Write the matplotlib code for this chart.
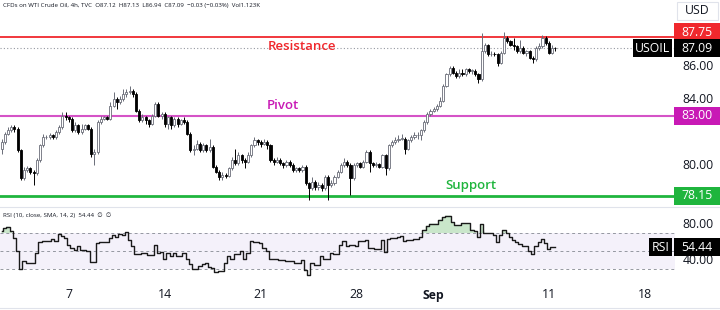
import matplotlib.pyplot as plt
import matplotlib.transforms as mtransforms
from matplotlib.patches import Rectangle

# 4h candles of WTI crude (open = previous close)
first_open = 81.0
closes = [
    81.4, 81.9, 82.1, 82.3, 82.2, 80.9, 79.2, 79.7, 79.8, 79.6,
    79.5, 80.3, 81.2, 81.7, 81.7, 81.8, 81.7, 82.0, 82.3, 83.0,
    82.9, 82.8, 82.1, 82.4, 82.0, 82.2, 82.4, 82.2, 80.7, 80.8,
    82.6, 82.8, 82.9, 82.8, 83.6, 84.0, 83.8, 84.0, 84.3, 84.4,
    84.5, 84.3, 83.3, 82.7, 82.9, 82.7, 82.5, 83.0, 83.7, 83.0,
    83.1, 82.5, 82.9, 82.4, 82.8, 82.5, 82.7, 82.6, 81.9, 80.9,
    81.0, 81.3, 80.9, 81.2, 80.9, 81.1, 79.9, 79.6, 79.3, 79.4,
    79.35, 79.8, 80.3, 80.1, 80.6, 80.3, 80.2, 80.6, 81.2, 81.5,
    81.4, 81.3, 81.4, 81.2, 80.3, 80.2, 80.3, 80.1, 80.0, 80.2,
    80.0, 79.7, 79.8, 79.7, 79.9, 78.9, 78.6, 79.0, 78.7, 78.8,
    78.6, 79.3, 78.8, 78.9, 79.3, 79.6, 80.0, 80.2, 80.0, 79.2,
    80.0, 80.1, 79.9, 80.2, 80.8, 80.1, 80.0, 80.05, 79.9, 80.6,
    79.8, 81.2, 81.4, 81.5, 81.6, 81.6, 81.0, 81.5, 81.7, 81.8,
    81.8, 82.1, 82.6, 83.1, 83.3, 83.4, 83.6, 83.9, 84.8, 85.5,
    85.9, 85.6, 85.4, 85.6, 85.5, 85.8, 85.7, 85.7, 85.5, 85.2,
    86.9, 87.3, 86.7, 86.75, 86.7, 86.2, 86.8, 87.7, 87.5, 87.3,
    87.2, 86.9, 87.1, 86.8, 86.9, 86.5, 86.4, 87.1, 87.2, 87.7,
    87.4, 86.8, 87.12, 87.09,
]
highs = [
    81.6, 82.0, 82.3, 82.45, 82.4, 82.3, 81.0, 79.9, 79.95, 79.9,
    79.7, 80.4, 81.3, 81.9, 81.85, 81.95, 81.9, 82.15, 82.4, 83.2,
    83.2, 83.0, 82.9, 82.6, 82.5, 82.5, 82.5, 82.5, 82.3, 81.0,
    82.7, 82.95, 83.0, 83.0, 83.8, 84.4, 84.1, 84.2, 84.6, 84.6,
    84.8, 84.6, 84.4, 83.4, 83.1, 83.0, 82.8, 83.1, 83.85, 83.8,
    83.2, 83.2, 83.0, 83.0, 82.9, 82.9, 82.8, 82.9, 82.7, 82.0,
    81.2, 81.5, 81.4, 81.35, 81.3, 81.6, 81.2, 80.0, 79.7, 79.6,
    79.5, 79.9, 80.5, 81.0, 80.8, 80.7, 80.4, 80.8, 81.3, 81.7,
    81.6, 81.5, 81.6, 81.5, 81.3, 80.4, 80.5, 80.4, 80.2, 80.3,
    80.3, 80.1, 79.9, 79.9, 80.0, 80.0, 79.0, 79.3, 79.1, 78.95,
    78.9, 79.4, 79.4, 79.1, 79.4, 79.7, 80.1, 80.4, 80.3, 80.1,
    80.1, 80.2, 80.2, 80.3, 80.9, 80.9, 80.2, 80.2, 80.1, 80.7,
    80.7, 81.3, 81.5, 81.7, 81.8, 81.9, 81.7, 81.6, 81.8, 82.0,
    82.0, 82.2, 82.7, 83.2, 83.4, 83.5, 83.7, 84.1, 84.9, 85.6,
    86.0, 86.0, 85.7, 85.8, 85.8, 85.9, 85.9, 85.85, 85.8, 85.6,
    88.0, 87.4, 87.35, 86.9, 86.85, 86.8, 86.9, 88.06, 87.8, 87.6,
    87.7, 87.3, 87.6, 87.2, 87.0, 87.0, 86.6, 87.2, 87.4, 87.9,
    87.8, 87.5, 87.3, 87.13,
]
lows = [
    80.7, 81.3, 81.8, 82.0, 82.0, 80.8, 79.1, 79.1, 79.55, 79.45,
    78.8, 79.4, 80.2, 81.1, 81.55, 81.6, 81.55, 81.6, 81.9, 82.2,
    82.7, 82.6, 82.0, 82.0, 81.9, 81.9, 82.1, 82.1, 80.5, 80.0,
    80.7, 82.5, 82.7, 82.7, 82.7, 83.5, 83.4, 83.7, 83.9, 84.1,
    84.3, 84.1, 83.2, 82.6, 82.6, 82.5, 82.3, 82.4, 82.9, 82.9,
    82.8, 82.3, 82.2, 82.2, 82.3, 82.3, 82.4, 82.5, 81.8, 80.8,
    80.6, 80.9, 80.8, 80.8, 80.8, 80.8, 79.8, 79.5, 79.1, 79.1,
    79.2, 79.3, 79.7, 80.0, 80.0, 80.1, 79.8, 80.1, 80.5, 81.1,
    81.2, 81.1, 81.2, 81.0, 80.2, 80.0, 80.1, 80.0, 79.8, 79.9,
    79.9, 79.6, 79.6, 79.6, 79.6, 78.8, 77.9, 78.5, 78.5, 78.5,
    78.4, 78.5, 77.9, 78.7, 78.8, 79.2, 79.5, 79.9, 79.9, 78.2,
    79.1, 79.9, 79.8, 79.8, 80.1, 79.6, 79.9, 79.9, 79.8, 79.8,
    79.4, 79.7, 81.1, 81.3, 81.4, 81.5, 80.7, 80.9, 81.4, 81.6,
    81.6, 81.5, 82.0, 82.5, 83.0, 83.2, 83.3, 83.5, 83.8, 84.7,
    85.4, 85.5, 85.3, 85.3, 85.4, 85.4, 85.6, 85.5, 85.4, 85.0,
    85.1, 86.8, 86.6, 86.6, 86.6, 86.0, 86.1, 86.7, 87.4, 87.2,
    87.0, 86.8, 86.8, 86.7, 86.6, 86.4, 86.2, 86.3, 87.0, 87.1,
    87.3, 86.7, 86.75, 86.94,
]
rsi = [
    71.8, 75.5, 77.0, 72.0, 65.0, 50.0, 30.0, 39.0, 37.0, 36.5,
    36.5, 48.0, 60.0, 61.0, 61.0, 61.5, 63.0, 61.0, 69.0, 67.0,
    64.5, 57.0, 53.6, 51.0, 55.5, 51.0, 51.0, 50.0, 38.0, 38.0,
    59.0, 60.0, 60.0, 60.0, 64.5, 68.0, 66.0, 69.0, 67.5, 70.7,
    62.7, 55.5, 46.4, 46.4, 48.0, 48.0, 46.0, 46.0, 57.0, 48.0,
    49.0, 41.6, 48.0, 44.5, 48.0, 45.0, 45.0, 47.5, 41.6, 35.5,
    30.0, 30.0, 33.6, 35.5, 36.5, 31.8, 30.7, 26.4, 28.0, 28.0,
    37.0, 44.5, 41.0, 46.4, 46.4, 50.0, 41.0, 48.0, 61.0, 60.0,
    60.0, 58.4, 53.6, 50.0, 41.6, 41.0, 41.0, 40.4, 40.4, 38.5,
    38.5, 38.5, 36.7, 36.7, 40.4, 29.0, 23.7, 36.7, 35.0, 35.0,
    44.0, 41.0, 41.0, 47.8, 47.0, 47.0, 57.0, 60.7, 55.2, 57.0,
    57.0, 55.2, 60.7, 60.7, 62.6, 53.3, 53.3, 52.2, 52.2, 62.6,
    48.5, 63.3, 64.4, 64.4, 65.5, 67.0, 60.7, 62.6, 62.6, 63.3,
    63.3, 65.5, 73.7, 78.1, 80.4, 80.4, 80.4, 84.8, 87.8, 89.3,
    89.3, 81.9, 78.9, 78.9, 81.1, 81.1, 81.1, 73.7, 71.9, 65.5,
    80.4, 70.0, 70.0, 70.0, 68.0, 59.6, 68.0, 73.0, 70.0, 65.5,
    62.6, 59.6, 58.1, 55.2, 55.2, 49.6, 47.0, 55.2, 59.6, 63.3,
    58.9, 52.6, 54.4, 54.44,
]
date_pos = [21, 51, 81, 111, 135, 171, 201]
date_labels = ['7', '14', '21', '28', 'Sep', '11', '18']
resistance, pivot, support = 87.75, 83.00, 78.15
last_price = 87.09

RED = '#f0282d'
MAG = '#c819b5'
GRN = '#1fb53d'
TXT = '#131722'

plt.rcParams['font.family'] = ['Open Sans', 'DejaVu Sans']

W, H = 720, 310
fig = plt.figure(figsize=(7.2, 3.1), dpi=100, facecolor='white')
ax = fig.add_axes([0, (H - 206) / H, 675 / W, 206 / H])
ax2 = fig.add_axes([0, (H - 281) / H, 675 / W, 73 / H])
for a in (ax, ax2):
    a.set_xlim(-0.5, 210.4)
    a.axis('off')
ax.set_ylim(77.52, 90.0)
ax2.set_ylim(16.7, 97.8)

# candles
opens = [first_open] + closes[:-1]
n = len(closes)
xs = list(range(n))
for i in xs:
    o, c = opens[i], closes[i]
    up = c >= o
    col = '#6a6d78' if up else '#000000'
    ax.vlines(i, lows[i], highs[i], color=col, lw=0.7, zorder=2)
    body = max(abs(c - o), 0.03)
    ax.bar(i, body, bottom=min(o, c), width=0.66,
           color='white' if up else 'black', edgecolor=col, lw=0.6, zorder=3)

# levels
ax.axhline(resistance, color=RED, lw=1.3, zorder=1)
ax.axhline(pivot, color=MAG, lw=1.5, alpha=0.75, zorder=1)
ax.axhline(support, color=GRN, lw=2.0, zorder=1)
ax.axhline(last_price, color='#9598a1', lw=0.8, ls=(0, (1, 2)), zorder=1)
ax.text(83.2, 87.2, 'Resistance', color=RED, fontsize=9.5, va='center', fontweight='semibold')
ax.text(83.0, 83.58, 'Pivot', color=MAG, fontsize=9.5, va='center', fontweight='semibold')
ax.text(138.6, 78.79, 'Support', color=GRN, fontsize=9.5, va='center', fontweight='semibold')

fig.text(3 / W, 1 - 5 / H,
         'CFDs on WTI Crude Oil, 4h, TVC  O87.12  H87.13  L86.94  C87.09  '
         '\u22120.03 (\u22120.03%)  Vol1.123K',
         fontsize=4.4, color=TXT, va='center')

# RSI pane
ax2.axhspan(30, 70, color='#7e57c2', alpha=0.08, lw=0)
for lvl in (70, 50, 30):
    ax2.axhline(lvl, color='#9598a1', lw=0.7, ls=(0, (3, 3)))
ax2.fill_between(xs, rsi, 70, where=[v > 70 for v in rsi], step='mid',
                 interpolate=True, color='#a5d6a7', alpha=0.6, lw=0)
ax2.plot(xs, rsi, drawstyle='steps-mid', color='#1a1a1a', lw=1.0)
fig.text(3 / W, 1 - 215 / H, 'RSI (10, close, SMA, 14, 2)  54.44  \u2205  \u2205',
         fontsize=4.4, color=TXT, va='center')

# separators
fig.add_artist(plt.Line2D([0, 1], [1 - 207 / H] * 2, color='#e0e3eb', lw=0.8))
fig.add_artist(plt.Line2D([0, 1], [1 - 308 / H] * 2, color='#e0e3eb', lw=0.8))

# dates
dtrans = mtransforms.blended_transform_factory(ax2.transData, fig.transFigure)
for p, lab in zip(date_pos, date_labels):
    ax2.text(p, 1 - 295 / H, lab, transform=dtrans, ha='center', va='center',
             fontsize=8.8, color=TXT, fontweight='bold' if lab == 'Sep' else 'normal',
             clip_on=False)


def ypix(axis, val):
    return fig.transFigure.inverted().transform(axis.transData.transform((0, val)))[1]


def tag(yf, text, fc, x0=674, x1=720, h=18, tc='white'):
    fig.add_artist(Rectangle((x0 / W, yf - h / 2 / H), (x1 - x0) / W, h / H,
                             transform=fig.transFigure, fc=fc, ec='none', zorder=5))
    fig.text((x0 + x1) / 2 / W, yf, text, ha='center', va='center', color=tc,
             fontsize=8.8, zorder=6)


# price scale
for v in (86, 84, 80):
    fig.text(698 / W, ypix(ax, v), '%.2f' % v, ha='center', va='center',
             fontsize=8.8, color=TXT)
fig.add_artist(Rectangle((677 / W, 1 - 20 / H), 41 / W, 18 / H, transform=fig.transFigure,
                         fc='white', ec='#e0e3eb', lw=0.8))
fig.text(697 / W, 1 - 11 / H, 'USD', ha='center', va='center', fontsize=8.8, color=TXT)
tag(1 - 32.5 / H, '%.2f' % resistance, RED)
tag(ypix(ax, last_price), '%.2f' % last_price, 'black')
tag(ypix(ax, last_price), 'USOIL', 'black', x0=633, x1=672)
tag(ypix(ax, pivot), '%.2f' % pivot, MAG)
tag(ypix(ax, support), '%.2f' % support, GRN)

# rsi scale
for v in (80, 40):
    fig.text(698 / W, ypix(ax2, v), '%.2f' % v, ha='center', va='center',
             fontsize=8.8, color=TXT)
tag(ypix(ax2, rsi[-1]), '%.2f' % rsi[-1], 'black')
tag(ypix(ax2, rsi[-1]), 'RSI', 'black', x0=649, x1=672)

fig.savefig('out.png', dpi=100, facecolor='white')
